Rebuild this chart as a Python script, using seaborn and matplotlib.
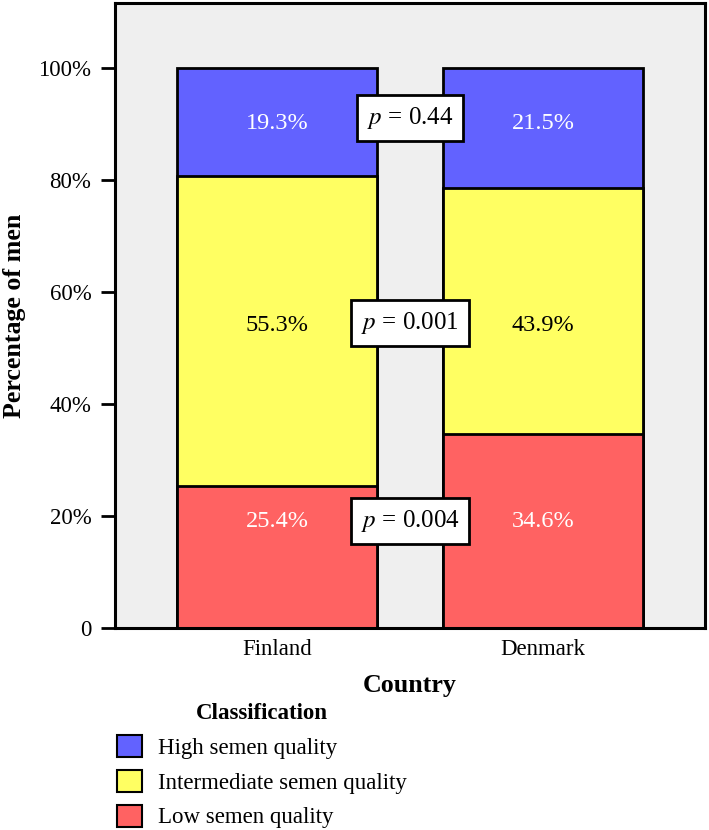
import numpy as np
import pandas as pd
import matplotlib
matplotlib.use("Agg")
import matplotlib.pyplot as plt
from matplotlib.patches import Patch
import seaborn as sns

# === Data ===
countries = ["Finland", "Denmark"]
low_pct = [25.4, 34.6]
intermediate_pct = [55.3, 43.9]
high_pct = [19.3, 21.5]
p_values = ["0.004", "0.001", "0.44"]  # low, intermediate, high
categories = ["High semen quality", "Intermediate semen quality", "Low semen quality"]

# === Style ===
sns.set_theme(style="white")
plt.rcParams["font.family"] = ["Liberation Serif", "DejaVu Serif"]
plt.rcParams["mathtext.fontset"] = "stix"
plt.rcParams["text.color"] = "black"
plt.rcParams["axes.labelcolor"] = "black"
plt.rcParams["xtick.color"] = "black"
plt.rcParams["ytick.color"] = "black"

COLORS = {"high": "#6262FF", "intermediate": "#FFFF62", "low": "#FF6262"}
BG = "#EFEFEF"
LABEL_Y = [19.0, 54.0, 90.0]   # low, intermediate, high (where SPSS puts the labels)
P_Y = [19.1, 54.5, 91.0]
FS_TICK = 16.5
FS_BAR = 17.5
FS_LAB = 18.7

df = pd.DataFrame({"Country": countries, "low": low_pct,
                   "intermediate": intermediate_pct, "high": high_pct})
df["top_low"] = df["low"]
df["top_int"] = df["low"] + df["intermediate"]
df["top_high"] = df["top_int"] + df["high"]

fig = plt.figure(figsize=(7.09, 8.30), dpi=100)
ax = fig.add_axes([115 / 709, 202 / 830, 590 / 709, 625 / 830])
ax.set_facecolor(BG)

# stacked bars: draw tallest first, shorter ones on top
for col, key in [("top_high", "high"), ("top_int", "intermediate"), ("top_low", "low")]:
    sns.barplot(data=df, x="Country", y=col, color=COLORS[key], saturation=1,
                width=0.75, edgecolor="black", linewidth=2, ax=ax, zorder=2)

# percentage labels
for i in range(len(countries)):
    for seg, y, tc in zip([low_pct, intermediate_pct, high_pct], LABEL_Y, ["white", "black", "white"]):
        ax.text(i, y, f"{seg[i]:.1f}%", ha="center", va="center", fontsize=FS_BAR, color=tc, zorder=5)

# p-value boxes between bars
for p, y in zip(p_values, P_Y):
    ax.text(0.5, y, f"$\\it{{p}}$ = {p}", ha="center", va="center", fontsize=FS_BAR + 0.5, zorder=6,
            bbox=dict(boxstyle="square,pad=0.4", facecolor="white", edgecolor="black", linewidth=2))

ax.set_xlim(-0.61, 1.61)
ax.set_ylim(0, 111.6)
ax.set_yticks([0, 20, 40, 60, 80, 100])
ax.set_yticklabels(["0", "20%", "40%", "60%", "80%", "100%"])
ax.tick_params(axis="y", length=10, width=2, pad=7, labelsize=FS_TICK, left=True)
ax.tick_params(axis="x", length=0, pad=8, labelsize=FS_TICK)

for s in ax.spines.values():
    s.set_linewidth(2.2)
    s.set_color("black")

ax.set_xlabel("Country", fontsize=FS_LAB, fontweight="bold")
ax.set_ylabel("Percentage of men", fontsize=FS_LAB, fontweight="bold")
ax.xaxis.set_label_coords(0.5, -0.074)
ax.yaxis.set_label_coords(-0.150, 0.5)

handles = [Patch(facecolor=COLORS[k], edgecolor="black", linewidth=1.5)
           for k in ["high", "intermediate", "low"]]
fig.legend(handles=handles, labels=categories, loc="upper left",
           bbox_to_anchor=(117 / 709, 1 - 703 / 830), frameon=False, fontsize=FS_TICK,
           title="Classification", title_fontproperties={"weight": "bold", "size": FS_TICK},
           handlelength=1.1, handleheight=1.1, handletextpad=0.7, labelspacing=0.48,
           borderpad=0, borderaxespad=0)

fig.savefig("out.png", dpi=100)
